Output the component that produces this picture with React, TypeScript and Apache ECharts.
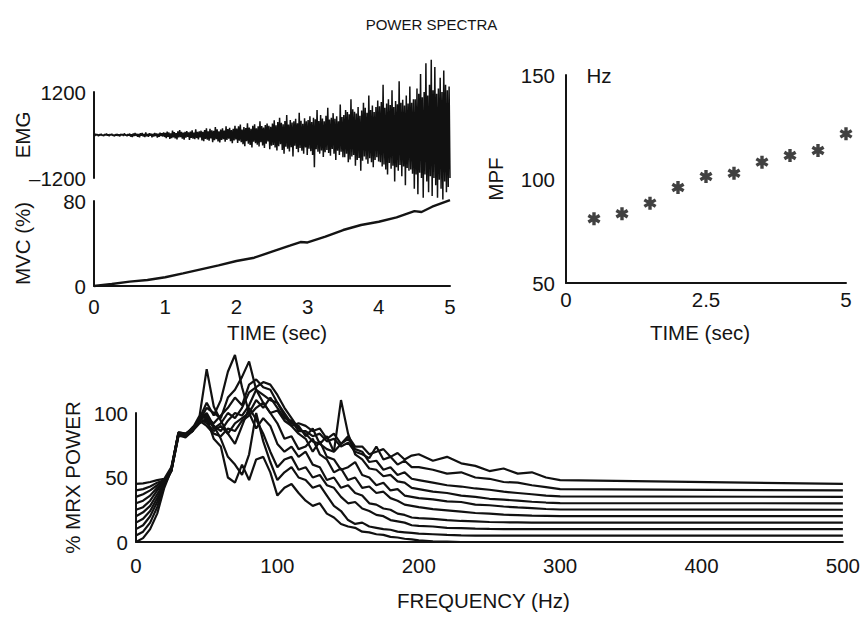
import React, { useEffect, useRef } from 'react';
import * as echarts from 'echarts';

// ---------- DATA ----------
// EMG raw trace (µV), 400 samples spread evenly over 0–5 s
const emgValues = [
  12,-25,30,-8,18,-32,22,-15,35,-20,10,-28,26,-12,40,-18,15,-30,24,-10,33,-22,8,-35,20,-14,28,-26,16,-38,30,-9,22,-27,45,-16,12,-33,27,-20,
  38,-45,20,-55,42,-30,60,-25,35,-50,28,-62,48,-18,55,-40,30,-58,70,-35,25,-48,52,-22,40,-65,33,-45,58,-28,45,-70,36,-52,62,-30,50,-40,75,-55,
  60,-85,95,-50,70,-110,45,-90,120,-65,80,-95,55,-120,100,-70,140,-60,85,-105,65,-130,90,-75,110,-55,75,-140,95,-80,130,-100,70,-115,160,-85,90,-125,105,-70,
  120,-150,90,-175,140,-110,190,-130,100,-160,170,-95,130,-200,115,-145,220,-120,160,-180,105,-210,150,-135,185,-115,125,-190,240,-140,165,-105,200,-170,135,-230,175,-150,260,-125,
  180,-220,240,-160,290,-200,150,-260,220,-310,195,-175,330,-240,210,-280,170,-350,260,-190,300,-230,185,-270,240,-320,380,-200,250,-290,210,-360,280,-240,320,-180,260,-400,230,-300,
  320,-280,410,-350,270,-430,360,-310,480,-260,340,-420,300,-520,390,-330,560,-380,290,-460,420,-340,350,-600,380,-300,450,-390,330,-480,620,-360,400,-440,310,-520,470,-350,380,-560,
  420,-380,520,-450,360,-560,480,-900,440,-400,700,-470,390,-520,560,-430,460,-610,380,-480,540,-420,760,-500,430,-580,480,-390,610,-520,450,-700,520,-440,380,-560,850,-470,500,-620,
  560,-620,700,-520,640,-760,580,-680,1000,-600,720,-560,650,-860,600,-700,780,-640,540,-1000,680,-720,900,-600,760,-680,620,-800,1100,-650,700,-760,820,-900,640,-700,780,-620,960,-740,
  800,-760,920,-880,1400,-820,760,-960,880,-1100,1000,-780,840,-940,1250,-860,780,-1300,950,-900,860,-1000,1500,-840,900,-1150,980,-880,820,-1400,1100,-920,880,-1000,1350,-960,900,-1080,1000,-1500,
  1000,-1100,1300,-1650,1150,-1050,1700,-1200,1050,-1750,1200,-1100,2000,-1300,1100,-1600,1400,-1150,2100,-1700,1250,-1200,1900,-1400,1150,-1750,1300,-1250,1600,-1500,1200,-1800,1800,-1300,1400,-1600,1250,-1450,1350,-1200,
];

// Force trace (% MVC)
const mvcTime = [0, 0.25, 0.5, 0.75, 1, 1.25, 1.5, 1.75, 2, 2.25, 2.5, 2.75, 2.9, 3, 3.25, 3.5, 3.75, 4, 4.25, 4.5, 4.6, 4.75, 5];
const mvcPercent = [0, 1.9, 4.1, 5.6, 8.2, 11.9, 15.7, 19.4, 23.5, 26.6, 32.3, 37.9, 41.4, 41, 46.4, 52.7, 57.4, 60.5, 64.6, 70.5, 69.6, 74.6, 80.9];

// Mean power frequency
const mpfTime = [0.5, 1, 1.5, 2, 2.5, 3, 3.5, 4, 4.5, 5];
const mpfHz = [80.9, 83.3, 88.4, 95.9, 101.2, 102.8, 108.1, 111.3, 113.7, 121.7];

// Power spectra (stacked, each curve already includes its offset)
const freqHz = [
  0, 5, 10, 15, 20, 25, 30, 35, 40, 45, 50, 55, 60, 65, 70, 75, 80, 85, 90, 95, 100,
  105, 110, 115, 120, 125, 130, 135, 140, 145, 150, 155, 160, 165, 170, 175, 180, 185, 190, 195, 200,
  210, 220, 230, 240, 250, 260, 270, 280, 290, 300, 500,
];
const spectrum1 = [0,3,10,22,42, 56,84,83,86,92, 96,80,74,50,46,60,48,64,66,54,36,42,45,38, 32,28,30,22,19,14,12,11,8,7.5,6,5.5,4,3.5,2.5,2,1.2, 0.6,0.3,0,0,0,0,0,0,0,0, 0];
const spectrum2 = [5,8,15,27,44, 55,83,82,87,95, 100,90,80,66,60,52,68,100,78,62,48,54,58,50, 48,42,44,36,28,24,17,14,15,12,11,10,9.5,8,7.5,7,6.5, 6,5.5,5.2,5,5,5,5,5,5,5, 5];
const spectrum3 = [10,13,20,31,45, 56,85,84,88,98, 134,105,94,84,76,90,104,95,84,70,58,64,66,56, 58,50,52,44,42,35,30,31,26,24,21,20,17,16,15,13,12.5, 12,11,10.8,10.3,10.1,10,10,10,10,10, 10];
const spectrum4 = [15,18,24,34,46, 57,84,82,86,96, 108,98,110,132,145,120,100,88,96,90,76,70,74,66, 70,60,58,48,50,42,44,38,36,30,29,26,25,22,21,19,18.5, 18,17,16.3,16,15.5,15.3,15.2,15,15,15, 15];
const spectrum5 = [20,23,28,37,46, 55,82,83,88,94, 104,100,96,112,118,128,140,118,108,100,92,80,82,72, 74,80,68,64,54,57,48,50,42,43,38,39,34,32,29,28,27, 25.5,24.5,23.5,22.5,22,21.2,20.8,20.4,20.2,20, 20];
const spectrum6 = [25,27,32,40,47, 56,83,81,86,97, 96,92,98,104,112,106,122,126,120,118,108,98,90,84, 80,70,78,66,64,56,58,62,52,50,44,46,40,41,36,35,34, 33,31.5,31,29,28.5,27.5,26.8,26.2,25.6,25.2, 25];
const spectrum7 = [30,32,36,42,47, 57,85,84,87,95, 98,88,92,100,96,104,116,120,124,122,114,104,96,88, 84,78,76,72,70,110,84,68,64,57,56,51,52,47,46,42,41, 39,38,36,35,33.5,32.8,32,31.2,30.6,30.2, 30];
const spectrum8 = [35,37,40,44,48, 56,84,83,89,93, 94,90,86,94,100,98,106,118,114,110,108,100,92,90, 82,88,76,82,70,76,80,72,70,62,63,56,58,52,54,49,48, 46,44,43,41.5,40.5,39,38,37,36,35.3, 35];
const spectrum9 = [40,41,43,46,48, 55,82,82,86,96, 92,86,90,84,92,96,100,110,104,112,104,96,94,86, 86,82,84,78,80,74,77,70,68,65,74,64,66,60,63,58,58, 56,53,54,50,49,46.5,46,44,42.5,41, 40];
const spectrum10 = [45,45.5,46.5,48,49, 58,84,83,88,94, 90,84,82,88,86,94,98,104,108,100,102,94,90,92, 90,86,88,80,84,76,82,74,74,68,70,72,66,69,64,67,68, 63,66,61,59,55,57,53,54,50,48, 45];
const spectra = [spectrum1, spectrum2, spectrum3, spectrum4, spectrum5, spectrum6, spectrum7, spectrum8, spectrum9, spectrum10];

// ---------- STYLE ----------
const FONT = '"Liberation Sans", Arial, Helvetica, sans-serif';
const INK = '#141414';
const FS = 20.5;

const ASTERISK =
  'path://M0.26,1 L-0.26,1 L-0.26,-1 L0.26,-1 Z ' +
  'M0.996,0.275 L0.736,0.725 L-0.996,-0.275 L-0.736,-0.725 Z ' +
  'M-0.736,0.725 L-0.996,0.275 L0.736,-0.725 L0.996,-0.275 Z';

const axisLine = { show: true, lineStyle: { color: INK, width: 2 } };
const labelStyle = (margin: number) => ({ color: INK, fontFamily: FONT, fontSize: FS, margin });
const nameStyle = { color: INK, fontFamily: FONT, fontSize: FS };

export default function App() {
  const ref = useRef<HTMLDivElement>(null);

  useEffect(() => {
    if (!ref.current) return;
    const chart = echarts.init(ref.current, undefined, { renderer: 'svg' });
    const n = emgValues.length;

    const option: any = {
      animation: false,
      backgroundColor: '#ffffff',
      textStyle: { fontFamily: FONT },
      title: {
        text: 'POWER SPECTRA',
        left: 'center',
        top: 12,
        textStyle: { color: INK, fontFamily: FONT, fontSize: 15, fontWeight: 'normal' },
      },
      grid: [
        { left: 94, top: 92, width: 356, height: 86 },
        { left: 94, top: 201, width: 356, height: 85 },
        { left: 566, top: 75, width: 280, height: 208 },
        { left: 136, top: 413, width: 710, height: 129 },
      ],
      xAxis: [
        { gridIndex: 0, type: 'value', min: 0, max: 5, show: false },
        {
          gridIndex: 1, type: 'value', min: 0, max: 5, interval: 1,
          axisLine, axisTick: { show: false }, splitLine: { show: false },
          axisLabel: labelStyle(10),
          name: 'TIME (sec)', nameLocation: 'middle', nameGap: 36, nameMoveOverlap: false,
          nameTextStyle: { ...nameStyle, padding: [0, 0, 0, 10] },
        },
        {
          gridIndex: 2, type: 'value', min: 0, max: 5, interval: 2.5,
          axisLine, axisTick: { show: false }, splitLine: { show: false },
          axisLabel: { ...labelStyle(6), formatter: (v: number) => String(v) },
          name: 'TIME (sec)', nameLocation: 'middle', nameGap: 39, nameMoveOverlap: false,
          nameTextStyle: { ...nameStyle, padding: [0, 12, 0, 0] },
        },
        {
          gridIndex: 3, type: 'value', min: 0, max: 500, interval: 100,
          axisLine, axisTick: { show: false }, splitLine: { show: false },
          axisLabel: labelStyle(13),
          name: 'FREQUENCY (Hz)', nameLocation: 'middle', nameGap: 48, nameMoveOverlap: false,
          nameTextStyle: { ...nameStyle, padding: [0, 12, 0, 0] },
        },
      ],
      yAxis: [
        {
          gridIndex: 0, type: 'value', min: -1200, max: 1200, interval: 1200,
          axisLine, axisTick: { show: false }, splitLine: { show: false },
          axisLabel: {
            ...labelStyle(8),
            formatter: (v: number) => (v === 0 ? '' : v < 0 ? '\u2013' + Math.abs(v) : String(v)),
          },
          name: 'EMG', nameLocation: 'middle', nameGap: 61, nameMoveOverlap: false, nameTextStyle: nameStyle,
        },
        {
          gridIndex: 1, type: 'value', min: 0, max: 80, interval: 80,
          axisLine, axisTick: { show: false }, splitLine: { show: false },
          axisLabel: labelStyle(8),
          name: 'MVC (%)', nameLocation: 'middle', nameGap: 61, nameMoveOverlap: false, nameTextStyle: nameStyle,
        },
        {
          gridIndex: 2, type: 'value', min: 50, max: 150, interval: 50,
          axisLine, axisTick: { show: false }, splitLine: { show: false },
          axisLabel: labelStyle(11),
          name: 'MPF', nameLocation: 'middle', nameGap: 60, nameMoveOverlap: false, nameTextStyle: nameStyle,
        },
        {
          gridIndex: 3, type: 'value', min: 0, max: 100, interval: 50,
          axisLine, axisTick: { show: false }, splitLine: { show: false },
          axisLabel: labelStyle(8),
          name: '% MRX POWER', nameLocation: 'middle', nameGap: 53, nameMoveOverlap: false, nameTextStyle: nameStyle,
        },
      ],
      graphic: [
        {
          type: 'text', x: 599, y: 75,
          style: { text: 'Hz', fill: INK, font: `${FS}px ${FONT}`, align: 'center', verticalAlign: 'middle' },
        },
      ],
      series: [
        {
          name: 'EMG', type: 'line', xAxisIndex: 0, yAxisIndex: 0,
          data: emgValues.map((v, i) => [(i * 5) / (n - 1), v]),
          showSymbol: false, symbol: 'none', clip: false,
          lineStyle: { color: '#111', width: 1.5 },
          z: 3,
        },
        {
          name: 'MVC', type: 'line', xAxisIndex: 1, yAxisIndex: 1,
          data: mvcTime.map((t, i) => [t, mvcPercent[i]]),
          showSymbol: false, symbol: 'none', clip: false,
          lineStyle: { color: INK, width: 2.4 },
          z: 4,
        },
        {
          name: 'MPF', type: 'scatter', xAxisIndex: 2, yAxisIndex: 2,
          data: mpfTime.map((t, i) => [t, mpfHz[i]]),
          symbol: ASTERISK, symbolSize: [13, 13],
          itemStyle: { color: '#111' },
        },
        ...spectra.map((s, k) => ({
          name: 'Spectrum ' + (k + 1), type: 'line', xAxisIndex: 3, yAxisIndex: 3,
          data: freqHz.map((f, i) => [f, s[i]]),
          showSymbol: false, symbol: 'none', clip: false,
          lineStyle: { color: '#111', width: 2.2 },
        })),
      ],
    };

    chart.setOption(option);
    return () => chart.dispose();
  }, []);

  return (
    <div
      ref={ref}
      style={{ position: 'fixed', left: 0, top: 0, width: 863, height: 617, background: '#fff' }}
    />
  );
}
